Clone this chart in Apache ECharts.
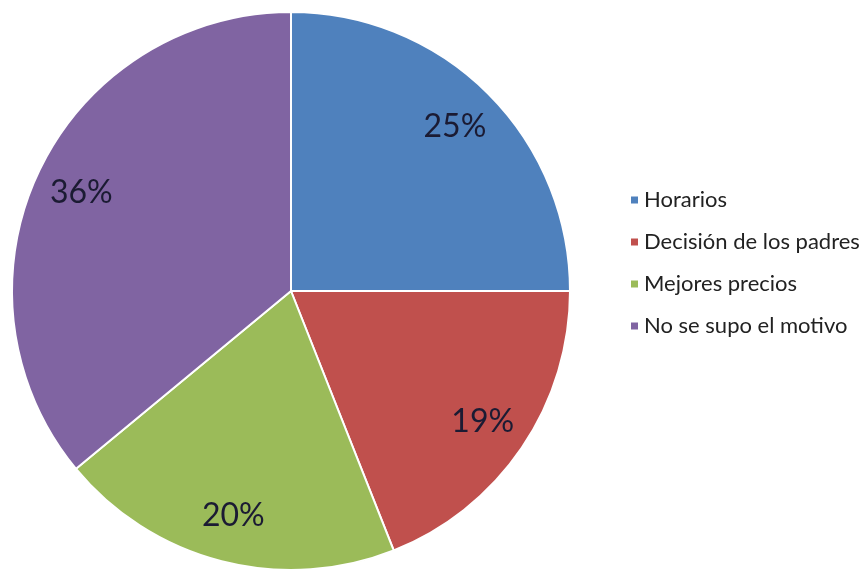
<!DOCTYPE html>
<html>
<head>
<meta charset="utf-8">
<script src="https://cdn.jsdelivr.net/npm/echarts@6/dist/echarts.min.js"></script>
<style>
  html, body { margin: 0; padding: 0; background: #fff; }
  #chart { width: 863px; height: 571px; }
</style>
</head>
<body>
<div id="chart"></div>
<script>
// Reasons for leaving, as share of answers (%)
const categories = ['Horarios', 'Decisión de los padres', 'Mejores precios', 'No se supo el motivo'];
const shares = [25, 19, 20, 36];
const sliceColors = ['#4F81BD', '#C0504D', '#9BBB59', '#8064A2'];

const pieData = categories.map((name, i) => ({
  name,
  value: shares[i],
  itemStyle: { color: sliceColors[i] }
}));

const center = [291, 291];
const R = 279;

const chart = echarts.init(document.getElementById('chart'), null, { renderer: 'canvas' });
chart.setOption({
  animation: false,
  color: sliceColors,
  legend: {
    orient: 'vertical',
    left: 624,
    top: 184,
    icon: 'rect',
    itemWidth: 9,
    itemHeight: 9,
    itemGap: 20,
    data: categories,
    selectedMode: false,
    textStyle: { fontFamily: 'Lato', fontSize: 22, color: '#222' }
  },
  series: [
    {
      type: 'pie',
      center,
      radius: [0, R],
      startAngle: 90,
      clockwise: true,
      silent: true,
      itemStyle: { borderColor: '#fff', borderWidth: 2 },
      label: { show: false },
      labelLine: { show: false },
      data: pieData
    },
    {
      // transparent ring that carries the percentage labels near the rim
      type: 'pie',
      center,
      radius: [R * 0.64, R],
      startAngle: 90,
      clockwise: true,
      silent: true,
      itemStyle: { color: 'rgba(0,0,0,0)', borderWidth: 0 },
      label: {
        show: true,
        position: 'inside',
        formatter: p => p.value + '%',
        fontFamily: 'Lato',
        fontSize: 32,
        color: '#1b1b33'
      },
      labelLine: { show: false },
      data: categories.map((name, i) => ({ name, value: shares[i] }))
    }
  ]
});
</script>
</body>
</html>
